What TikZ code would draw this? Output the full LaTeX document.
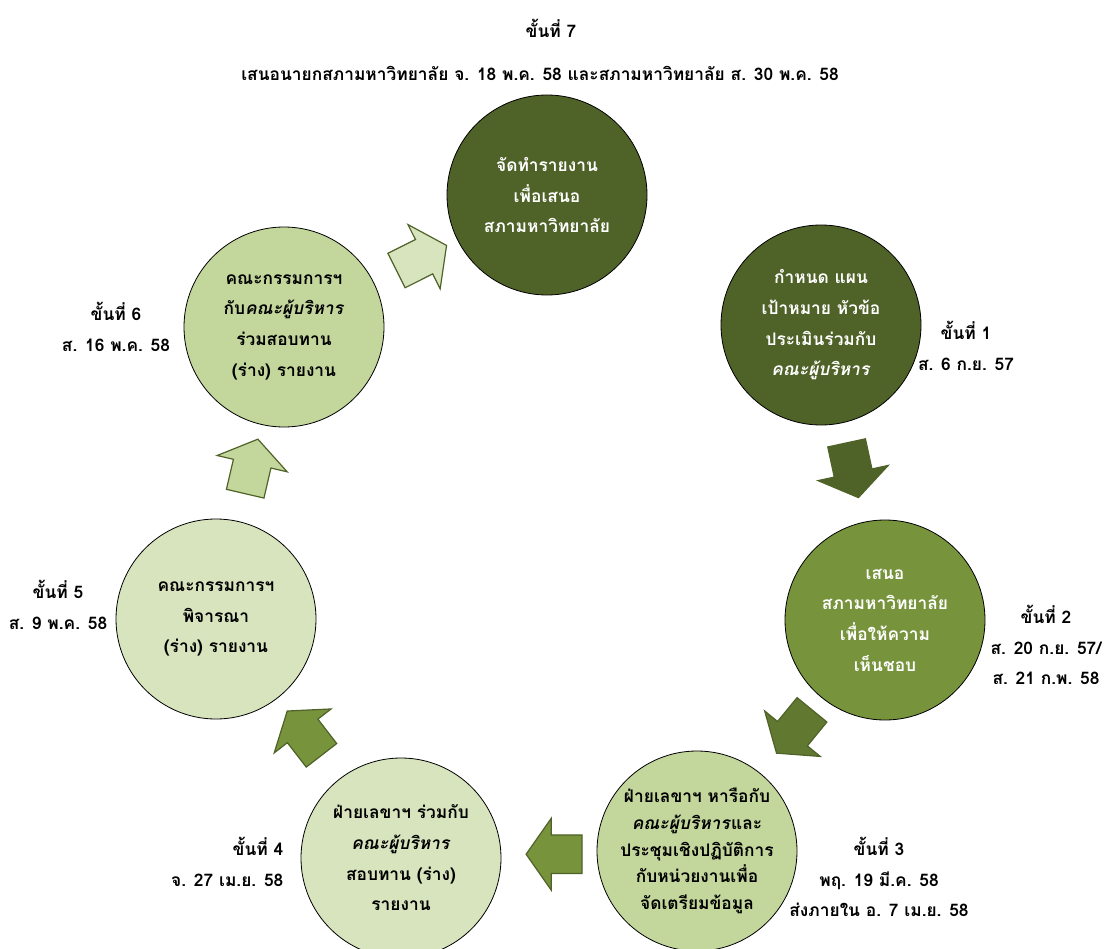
\documentclass[tikz,border=0pt]{standalone}
\usepackage{fontspec}
\newfontfamily\thaifont[Script=Thai]{Loma}
\usepackage{tikz}
\usetikzlibrary{shapes.arrows,calc}

\definecolor{olivedark}{HTML}{4F6228}
\definecolor{olivemid}{HTML}{77933C}
\definecolor{olivelight}{HTML}{C3D69B}
\definecolor{olivepale}{HTML}{D7E4BD}

\begin{document}
\begin{tikzpicture}[x=0.75pt, y=0.75pt,
  font=\thaifont\bfseries\fontsize{13}{23}\selectfont,
  every node/.style = {align=center},
  stage/.style = {draw, circle, minimum size=150pt, inner sep=0pt, line width=0.6pt},
  darkstage/.style = {stage, fill=olivedark, text=white},
  flow/.style = {single arrow, draw=olivedark, line width=0.9pt, inner xsep=0pt, inner ysep=14pt,
    minimum height=42pt, single arrow head extend=12.5pt, single arrow tip angle=110}]
\clip (0,0) rectangle (1114,-949);
% stages
\node[darkstage] (7) at (547,-195) {จัดทำรายงาน\\เพื่อเสนอ\\สภามหาวิทยาลัย};
\node[darkstage] (1) at (821,-325) {กำหนด แผน\\เป้าหมาย หัวข้อ\\ประเมินร่วมกับ\\\textit{คณะผู้บริหาร}};
\node[stage, fill=olivemid, text=white] (2) at (885,-620) {เสนอ\\สภามหาวิทยาลัย\\เพื่อให้ความ\\เห็นชอบ};
\node[stage, fill=olivelight, font=\thaifont\bfseries\fontsize{13}{20}\selectfont] (3) at (697,-851) {ฝ่ายเลขาฯ หารือกับ\\\textit{คณะผู้บริหาร}และ\\ประชุมเชิงปฏิบัติการ\\กับหน่วยงานเพื่อ\\จัดเตรียมข้อมูล};
\node[stage, fill=olivepale] (4) at (401,-858) {ฝ่ายเลขาฯ ร่วมกับ\\\textit{คณะผู้บริหาร}\\สอบทาน (ร่าง)\\รายงาน};
\node[stage, fill=olivepale] (5) at (216,-619) {คณะกรรมการฯ\\พิจารณา\\(ร่าง) รายงาน};
\node[stage, fill=olivelight] (6) at (284,-327) {คณะกรรมการฯ\\กับ\textit{คณะผู้บริหาร}\\ร่วมสอบทาน\\(ร่าง) รายงาน};
% arrows between stages
\node[flow, fill=olivedark, rotate=-77.8] (a1) at ($(1)!0.47!(2)$) {};
\node[flow, fill=olivedark!55!olivemid, rotate=-129.3] (a2) at ($(2)!0.46!(3)$) {};
\node[flow, fill=olivemid, rotate=180] (a3) at ($(3)!0.46!(4)$) {};
\node[flow, fill=olivemid, rotate=127.7] (a4) at ($(4)!0.5!(5)$) {};
\node[flow, fill=olivelight, rotate=76.9] (a5) at ($(5)!0.5!(6)$) {};
\node[flow, fill=olivepale, rotate=26.6] (a6) at ($(6)!0.5!(7)$) {};
% dates
\node (t7a) at (551,-28) {ขั้นที่ 7};
\node (t7b) at (540,-73) {เสนอนายกสภามหาวิทยาลัย จ. 18 พ.ค. 58 และสภามหาวิทยาลัย ส. 30 พ.ค. 58};
\node (t1) at (966,-346) {ขั้นที่ 1\\ส. 6 ก.ย. 57};
\node (t2) at (1046,-645) {ขั้นที่ 2\\ส. 20 ก.ย. 57/\\ส. 21 ก.พ. 58};
\node (t3) at (879,-877) {ขั้นที่ 3\\พฤ. 19 มี.ค. 58\\ส่งภายใน อ. 7 เม.ย. 58};
\node[anchor=east, align=right] (t4) at (288,-862) {ขั้นที่ 4\\จ. 27 เม.ย. 58};
\node (t5) at (58,-605) {ขั้นที่ 5\\ส. 9 พ.ค. 58};
\node (t6) at (116,-327) {ขั้นที่ 6\\ส. 16 พ.ค. 58};
\end{tikzpicture}
\end{document}
